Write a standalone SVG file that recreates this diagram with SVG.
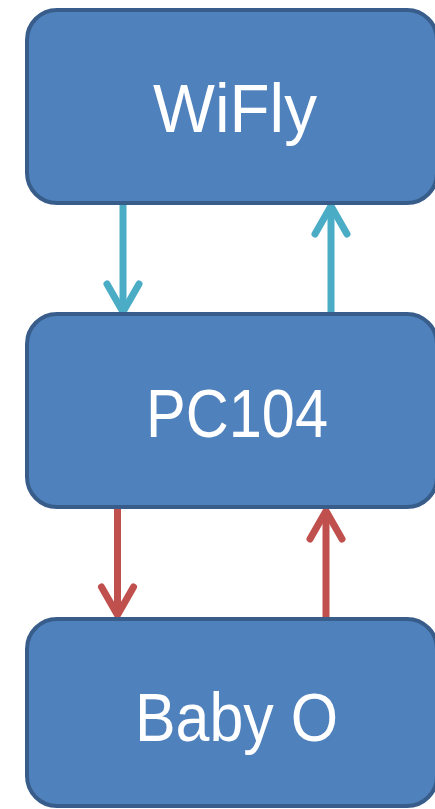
<svg xmlns="http://www.w3.org/2000/svg" width="435" height="809" viewBox="0 0 435 809">
  <style>
    .box { fill: #4F81BD; stroke: #385D8A; stroke-width: 4; }
    .lbl { fill: #FFFFFF; font-family: "Liberation Sans", Arial, sans-serif; font-size: 68px; }
    .cyan { stroke: #4BACC6; stroke-width: 7; fill: none; }
    .red { stroke: #C0504D; stroke-width: 7; fill: none; }
    .head { stroke-linecap: round; stroke-linejoin: miter; }
  </style>
  <rect width="435" height="809" fill="#FFFFFF"/>
  <g id="connectors">
    <g id="wifly-to-pc104">
      <line class="cyan" x1="123" y1="203" x2="123" y2="310"/>
      <polyline class="cyan head" points="107,284 123,312 139,284"/>
    </g>
    <g id="pc104-to-wifly">
      <line class="cyan" x1="331" y1="315" x2="331" y2="208"/>
      <polyline class="cyan head" points="315,234 331,206 347,234"/>
    </g>
    <g id="pc104-to-babyo">
      <line class="red" x1="117.5" y1="507" x2="117.5" y2="614"/>
      <polyline class="red head" points="101.5,587 117.5,615 133.5,587"/>
    </g>
    <g id="babyo-to-pc104">
      <line class="red" x1="326" y1="620" x2="326" y2="513"/>
      <polyline class="red head" points="310,539 326,511 342,539"/>
    </g>
  </g>
  <g id="wifly">
    <rect class="box" x="27" y="10" width="410" height="193" rx="30" ry="30"/>
    <text class="lbl" x="153" y="132" textLength="164" lengthAdjust="spacingAndGlyphs">WiFly</text>
  </g>
  <g id="pc104">
    <rect class="box" x="27" y="314" width="410" height="193" rx="30" ry="30"/>
    <text class="lbl" x="146" y="437" textLength="182" lengthAdjust="spacingAndGlyphs">PC104</text>
  </g>
  <g id="babyo">
    <rect class="box" x="27" y="619" width="410" height="187" rx="30" ry="30"/>
    <text class="lbl" x="135" y="741" textLength="203" lengthAdjust="spacingAndGlyphs">Baby O</text>
  </g>
</svg>
